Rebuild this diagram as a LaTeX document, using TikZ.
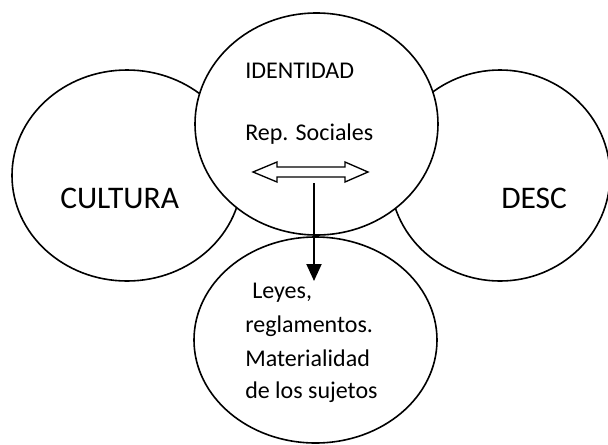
\documentclass[tikz,border=0pt]{standalone}
\usepackage{fontspec}
\setmainfont{Carlito}
\usepackage{tikz}
\usetikzlibrary{arrows.meta, shapes.geometric}

\begin{document}
\begin{tikzpicture}[
    x=0.75pt, y=-0.75pt,
    >=Latex,
    ovalo/.style={draw, ellipse, line width=1.2pt, fill=white, inner sep=0pt},
    txtchico/.style={anchor=base west, inner sep=0pt, font=\fontsize{18}{20}\selectfont},
    txtgrande/.style={anchor=base west, inner sep=0pt, font=\fontsize{23.6}{26}\selectfont},
    flecha/.style={-{Triangle[length=12.75pt, width=11.25pt]}, line width=1.5pt},
    dobleflecha/.style={draw, line width=1pt, line join=miter}
]
\useasboundingbox (0,0) rectangle (608,444);

\node[ovalo, minimum width=172.5pt, minimum height=158.25pt] (cultura) at (127,175.5) {};
\node[ovalo, minimum width=165pt, minimum height=158.25pt] (desc) at (500,175.5) {};
\node[ovalo, minimum width=182.25pt, minimum height=166.5pt] (identidad) at (316.5,124) {};
\node[ovalo, fill=none, minimum width=182.25pt, minimum height=154.5pt] (leyes) at (315.5,340) {};

\node[txtgrande] (tcultura) at (60,208) {CULTURA};
\node[txtgrande] (tdesc) at (501,208) {DESC};
\node[txtchico] (tident) at (245,78) {IDENTIDAD};
\node[txtchico] (trep) at (245,140) {Rep. Sociales};

\node[txtchico] (tleyes) at (252,298) {Leyes,};
\node[txtchico] (tregl) at (245,332) {reglamentos.};
\node[txtchico] (tmat) at (245,366) {Materialidad};
\node[txtchico] (tsuj) at (245,398) {de los sujetos};

% flecha doble hueca
\draw[dobleflecha] (253,172) -- (277,162) -- (277,167) -- (345,167) -- (345,162) -- (368,172)
    -- (345,182) -- (345,177) -- (277,177) -- (277,182) -- cycle;

\coordinate (bajo) at (314,183);
\coordinate (fin) at (314,281);
\draw[flecha] (bajo) -- (fin);

\end{tikzpicture}
\end{document}
